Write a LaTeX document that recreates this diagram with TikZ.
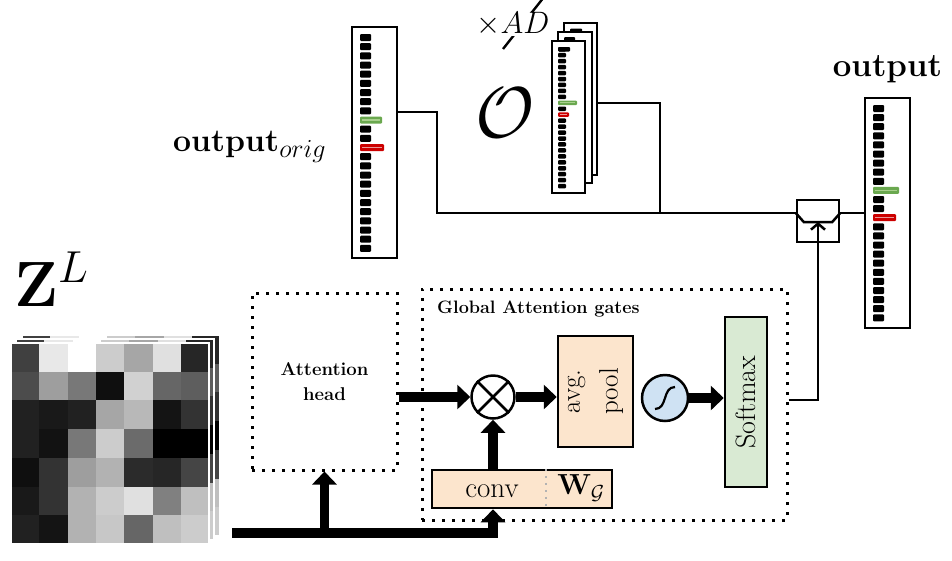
\RequirePackage{fix-cm}
\documentclass[tikz,border=0pt]{standalone}
\usetikzlibrary{arrows.meta,calc}
\definecolor{peach}{HTML}{FCE5CD}
\definecolor{sigblue}{HTML}{CFE2F3}
\definecolor{smgreen}{HTML}{D9EAD3}
\definecolor{gbar}{HTML}{6AA84F}
\definecolor{gbarlt}{HTML}{A8D08D}
\definecolor{rbar}{HTML}{CC0000}
\definecolor{rbarlt}{HTML}{EA9999}
\tikzset{
  barbox/.style={draw, line width=2.5pt, fill=white, inner sep=0pt},
  conn/.style={line width=2.5pt},
  dotbox/.style={draw, line width=3pt, dash pattern=on 3pt off 7pt, inner sep=0pt},
  thickarrow/.style={line width=9.5pt, -{Triangle[length=13pt,width=24pt]}},
  fbox/.style={draw, line width=2.5pt, inner sep=0pt},
}
\newcommand{\cellstack}[9]{%
  \foreach \i in {0,...,23}{%
    \pgfmathsetmacro\yy{#2+\i*#3}%
    \ifnum\i=#6
      \fill[gbar,rounded corners=1pt] (#1,\yy) rectangle ++(#7,#5);
      \draw[gbarlt,line width=1.2pt] ({#1+2},{\yy+#5/2}) -- ++({#7-4},0);
    \else\ifnum\i=#8
      \fill[rbar,rounded corners=1pt] (#1,\yy) rectangle ++(#9,#5);
      \draw[rbarlt,line width=1.2pt] ({#1+2},{\yy+#5/2}) -- ++({#9-4},0);
    \else
      \fill[black,rounded corners=1pt] (#1,\yy) rectangle ++(#4,#5);
    \fi\fi
  }}
\newcommand{\zgrid}[2]{%
  \foreach \rw [count=\ri from 0] in {{75,9,0,20,35,12,85},{70,38,53,94,18,60,63},{87,90,87,35,28,92,80},{87,93,53,20,58,100,100},{94,80,38,30,83,85,73},{90,80,30,20,12,50,25},{87,92,30,22,60,25,20}}{%
    \foreach \v [count=\ci from 0] in \rw {%
      \fill[black!\v] ({#1+11+\ci*28.3},{#2+343+\ri*28.7}) rectangle ++(28.4,28.8);
    }}
  \draw[white,line width=1.5pt] ({#1+11},{#2+343}) rectangle ++(198.1,200.9);
}
\begin{document}
\begin{tikzpicture}[x=1pt,y=-1pt]
\useasboundingbox (0,0) rectangle (952,560);
\clip (0,0) rectangle (952,560);

% ---------- Z^L image stack ----------
\zgrid{11}{-8}
\zgrid{5}{-4}
\zgrid{0}{0}
\node[font=\fontsize{64}{66}\selectfont, anchor=base west, inner sep=0pt] (zl) at (14,306) {$\mathbf{Z}^{L}$};

% ---------- output_orig ----------
\node[barbox, minimum width=45pt, minimum height=231pt] (orig) at (374.5,142.5) {};
\cellstack{360}{34}{9.17}{11}{7}{9}{22}{12}{24}
\node[font=\fontsize{32}{38}\selectfont\bfseries, anchor=base west, inner sep=0pt] (origl) at (173,151) {output$_{\mbox{\fontsize{26}{26}\selectfont$orig$}}$};

% ---------- O stack ----------
\node[barbox, minimum width=33pt, minimum height=152pt] (o3) at (580.5,99) {};
\fill[black,rounded corners=1pt] (570,28.5) rectangle ++(12,4.5);
\node[barbox, minimum width=34pt, minimum height=151pt] (o2) at (575,107.5) {};
\fill[black,rounded corners=1pt] (564,37) rectangle ++(11,4.5);
\node[barbox, minimum width=33pt, minimum height=152pt] (o1) at (568.5,117) {};
\cellstack{558}{47}{5.95}{8}{4.5}{9}{19}{11}{11}
\fill[black,rounded corners=1pt] (558,47) rectangle ++(12,4.5);
\node[font=\fontsize{72}{80}\selectfont, inner sep=0pt] (ocal) at (505,113) {$\mathcal{O}$};
\draw[line width=2.4pt] (503,49) -- (544,-3);
\node[font=\fontsize{31}{34}\selectfont, fill=white, inner sep=0.5pt] (ad) at (513,24) {$\times AD$};

% ---------- output ----------
\node[barbox, minimum width=45pt, minimum height=230pt] (outb) at (887.5,213) {};
\cellstack{873}{105}{9.1}{11}{7}{9}{26}{12}{23}
\node[font=\fontsize{33}{38}\selectfont\bfseries, anchor=base, inner sep=0pt] (outl) at (887.5,76) {output};

% ---------- switch ----------
\node[fbox, minimum size=42pt] (sw) at (818,221) {};
\coordinate (swin) at ($(sw.west)+(0,-8)$);
\coordinate (swout) at ($(sw.east)+(0,-8)$);
\coordinate (oc) at (437,112);
\coordinate (oj) at (660,103);
\draw[conn] (orig.east |- oc) -- (oc) |- (swin);
\draw[conn] (o3.east |- oj) -| (oj |- swin);
\draw[conn] (swout) -- (swout -| outb.west);
\draw[conn] (swin) -- ++(8,9) -- ($(swout)+(-8,9)$) -- (swout);

% ---------- lower block ----------
\node[dotbox, minimum width=145pt, minimum height=177pt, align=center,
      font=\fontsize{18.5}{25}\selectfont\bfseries] (attn) at (324.5,381.5) {Attention\\head};
\node[dotbox, minimum width=365pt, minimum height=231pt] (gag) at (604.5,404.5) {};
\node[anchor=west, inner sep=0pt, font=\fontsize{18}{20}\selectfont\bfseries] (gagl) at (437,309) {Global Attention gates};

\node[circle, draw, line width=2.5pt, minimum size=43pt, inner sep=0pt] (ot) at (493,397) {};
\draw[conn] (ot.north west) -- (ot.south east);
\draw[conn] (ot.north east) -- (ot.south west);

\node[fbox, fill=peach, minimum width=180pt, minimum height=38pt] (conv) at (522,489) {};
\node[font=\fontsize{29}{30}\selectfont, inner sep=0pt] (convt) at (492,491) {conv};
\node[font=\fontsize{29}{30}\selectfont, inner sep=0pt] (wg) at (581,488) {$\mathbf{W}_{\mathcal{G}}$};
\draw[gray!60, line width=2pt, dash pattern=on 2pt off 5pt] (conv.north -| 546,0) -- (conv.south -| 546,0);

\node[fbox, fill=peach, minimum width=75pt, minimum height=111pt] (avg) at (595.5,391.5) {};
\node[rotate=90, align=center, font=\fontsize{27}{38}\selectfont, inner sep=0pt] (avgt) at (avg) {avg.\\pool};

\node[circle, draw, line width=2.5pt, fill=sigblue, minimum size=46pt, inner sep=0pt] (sig) at (665,398) {};
\draw[line width=2.2pt] ($(sig)+(-10,11)$) .. controls ($(sig)+(3,11)$) and ($(sig)+(-3,-11)$) .. ($(sig)+(10,-11)$);

\node[fbox, fill=smgreen, minimum width=42pt, minimum height=170pt] (sm) at (746,402) {};
\node[rotate=90, font=\fontsize{28}{30}\selectfont, inner sep=0pt] (smt) at (sm) {Softmax};

% thick arrows
\draw[thickarrow] (attn.east |- ot.west) -- (ot.west);
\draw[thickarrow] (ot.east) -- (ot.east -| avg.west);
\draw[thickarrow] (conv.north -| ot) -- (ot.south);
\draw[thickarrow] (sig.east) -- (sig.east -| sm.west);
\coordinate (zs) at (232,533);
\draw[thickarrow] (zs) -| (conv.south -| ot);
\draw[thickarrow] (zs -| attn.south) -- (attn.south);

% gate to switch
\draw[conn, -{Straight Barb[length=6pt,width=14pt,line width=2.5pt]}] (gag.east |- 0,400) -| ($(sw.center)+(0,1)$);
\end{tikzpicture}
\end{document}
